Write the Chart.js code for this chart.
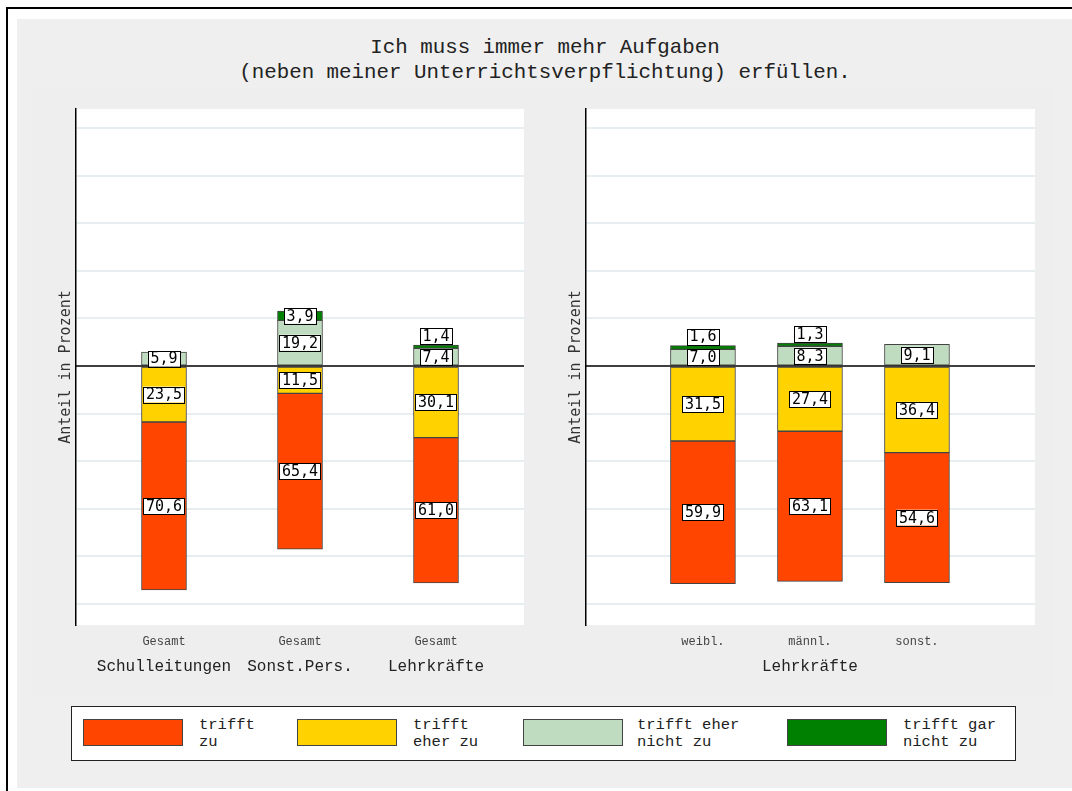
<!DOCTYPE html>
<html>
<head>
<meta charset="utf-8">
<script src="https://cdn.jsdelivr.net/npm/chart.js@4.4.1/dist/chart.umd.min.js"></script>
<style>
html,body{margin:0;padding:0;background:#fff;width:1072px;height:791px;overflow:hidden;position:relative;}
#frame{position:absolute;left:6px;top:7px;width:1100px;height:820px;border-left:2px solid #000;border-top:2px solid #000;}
#bg{position:absolute;left:17px;top:19px;width:1060px;height:769px;background:#efefef;}
#inner{position:absolute;left:33px;top:88px;width:1021px;height:609px;background:#eeeeee;}
#title{position:absolute;left:0;width:1090px;top:35px;text-align:center;font-family:"Liberation Mono",monospace;font-size:20.8px;line-height:25px;color:#222;}
.panel{position:absolute;top:100px;height:600px;}
#leftBox{left:40px;width:494px;}
#rightBox{left:550px;width:495px;}
#legend{position:absolute;left:71px;top:706px;width:943px;height:53px;background:#fff;border:1.5px solid #222;}
.sw{position:absolute;top:12px;width:100px;height:27px;box-sizing:border-box;border:1px solid #444;}
.lt{position:absolute;top:10px;font-family:"Liberation Mono",monospace;font-size:15.5px;line-height:17px;color:#222;white-space:pre;}
</style>
</head>
<body>
<div id="frame"></div>
<div id="bg"></div>
<div id="inner"></div>
<div id="title">Ich muss immer mehr Aufgaben<br>(neben meiner Unterrichtsverpflichtung) erfüllen.</div>
<div class="panel" id="leftBox"><canvas id="leftChart"></canvas></div>
<div class="panel" id="rightBox"><canvas id="rightChart"></canvas></div>
<div id="legend"></div>
<script>
// left panel: three groups, each "Gesamt"
const leftGroups = ['Schulleitungen', 'Sonst.Pers.', 'Lehrkräfte'];
const leftSub = ['Gesamt', 'Gesamt', 'Gesamt'];
const leftZu = [70.6, 65.4, 61.0];
const leftEherZu = [23.5, 11.5, 30.1];
const leftEherNicht = [5.9, 19.2, 7.4];
const leftGarNicht = [0, 3.9, 1.4];

// right panel: Lehrkräfte by gender
const rightGroups = ['', 'Lehrkräfte', ''];
const rightSub = ['weibl.', 'männl.', 'sonst.'];
const rightZu = [59.9, 63.1, 54.6];
const rightEherZu = [31.5, 27.4, 36.4];
const rightEherNicht = [7.0, 8.3, 9.1];
const rightGarNicht = [1.6, 1.3, 0];

const seriesNames = [['trifft', 'zu'], ['trifft', 'eher zu'], ['trifft eher', 'nicht zu'], ['trifft gar', 'nicht zu']];
const seriesColors = ['#ff4500', '#ffd200', '#c0dcc0', '#008000'];
const yTicks = [-100, -80, -60, -40, -20, 0, 20, 40, 60, 80, 100];

const monoSerif = '"Liberation Mono", monospace';
const monoSans = '"DejaVu Sans Mono", monospace';

// white plot region
const plotBg = {
  id: 'plotBg',
  beforeDraw(chart){
    const a = chart.chartArea, c = chart.ctx;
    c.save(); c.fillStyle = '#fff';
    c.fillRect(a.left, a.top, a.right - a.left, a.bottom - a.top);
    c.restore();
  }
};

// zero line and boxed value labels
const valueLabels = {
  id: 'valueLabels',
  afterDatasetsDraw(chart){
    const c = chart.ctx, a = chart.chartArea;
    const y0 = chart.scales.y.getPixelForValue(0);
    c.save();
    c.strokeStyle = '#000'; c.lineWidth = 1.5;
    c.beginPath(); c.moveTo(a.left, y0); c.lineTo(a.right, y0); c.stroke();
    c.font = '15px ' + monoSans;
    c.textAlign = 'center'; c.textBaseline = 'middle';
    chart.data.datasets.forEach((ds, di) => {
      const meta = chart.getDatasetMeta(di);
      meta.data.forEach((bar, i) => {
        const v = ds.data[i].y;
        if (v == null) return;
        const txt = Math.abs(v).toFixed(1).replace('.', ',');
        const w = c.measureText(txt).width + 5, h = 16;
        let cy = (bar.y + bar.base) / 2;
        if (Math.abs(v) < 2) cy = Math.min(bar.y, bar.base) - h / 2 - 1;
        c.fillStyle = '#fff';
        c.fillRect(bar.x - w / 2, cy - h / 2, w, h);
        c.lineWidth = 1; c.strokeStyle = '#000';
        c.strokeRect(Math.round(bar.x - w / 2) + 0.5, Math.round(cy - h / 2) + 0.5, Math.round(w), h);
        c.fillStyle = '#000';
        c.fillText(txt, bar.x, cy + 1);
      });
    });
    c.restore();
  }
};

function pts(arr, sign){
  return arr.map((v, i) => ({x: i, y: v ? sign * v : null}));
}

function makePanel(id, sub, groups, zu, eherZu, eherNicht, garNicht, xMin, xMax, barPx){
  const common = {borderColor: '#444', borderWidth: 1, borderSkipped: false, barThickness: barPx};
  return new Chart(document.getElementById(id), {
    type: 'bar',
    data: {
      datasets: [
        Object.assign({label: 'trifft eher zu', data: pts(eherZu, -1), backgroundColor: seriesColors[1]}, common),
        Object.assign({label: 'trifft zu', data: pts(zu, -1), backgroundColor: seriesColors[0]}, common),
        Object.assign({label: 'trifft eher nicht zu', data: pts(eherNicht, 1), backgroundColor: seriesColors[2]}, common),
        Object.assign({label: 'trifft gar nicht zu', data: pts(garNicht, 1), backgroundColor: seriesColors[3]}, common)
      ]
    },
    options: {
      animation: false,
      responsive: true,
      maintainAspectRatio: false,
      layout: {padding: {top: 9, right: 10, left: 0, bottom: 0}},
      plugins: {legend: {display: false}, tooltip: {enabled: false}},
      scales: {
        x: {
          type: 'linear', stacked: true, offset: false, min: xMin, max: xMax, weight: 0,
          grid: {display: false, drawTicks: false}, border: {display: false},
          afterBuildTicks: s => { s.ticks = [0, 1, 2].map(v => ({value: v})); },
          afterFit: s => { s.height = 24; },
          ticks: {padding: 10, autoSkip: false, maxRotation: 0, color: '#444', font: {family: monoSerif, size: 12}, callback: (v) => sub[v] ?? ''}
        },
        x2: {
          type: 'linear', position: 'bottom', offset: false, min: xMin, max: xMax, weight: 1,
          grid: {display: false, drawTicks: false}, border: {display: false},
          afterBuildTicks: s => { s.ticks = [0, 1, 2].map(v => ({value: v})); },
          afterFit: s => { s.height = 51; },
          ticks: {padding: 8, autoSkip: false, maxRotation: 0, color: '#222', font: {family: monoSerif, size: 16}, callback: (v) => groups[v] ?? ''}
        },
        y: {
          stacked: true, min: -108.8, max: 108,
          afterBuildTicks: s => { s.ticks = yTicks.map(v => ({value: v})); },
          afterFit: s => { s.width = 36; },
          grid: {color: c => c.tick && c.tick.value === 0 ? 'rgba(0,0,0,0)' : '#e7eef1', lineWidth: 2, drawTicks: false},
          border: {display: true, color: '#000', width: 1.5},
          ticks: {display: false},
          title: {display: true, text: 'Anteil in Prozent', color: '#333', padding: {top: 17, bottom: 0}, font: {family: monoSans, size: 15}}
        }
      }
    },
    plugins: [plotBg, valueLabels]
  });
}

makePanel('leftChart', leftSub, leftGroups, leftZu, leftEherZu, leftEherNicht, leftGarNicht, -0.647, 2.647, 45);
makePanel('rightChart', rightSub, rightGroups, rightZu, rightEherZu, rightEherNicht, rightGarNicht, -1.093, 3.103, 65);

// legend box spanning both panels
const legend = document.getElementById('legend');
const swLeft = [10.5, 224.5, 450.5, 714.5];
const txtLeft = [127, 341, 565, 831];
seriesNames.forEach((lines, i) => {
  const sw = document.createElement('div');
  sw.className = 'sw';
  sw.style.left = swLeft[i] + 'px';
  sw.style.background = seriesColors[i];
  legend.appendChild(sw);
  const t = document.createElement('div');
  t.className = 'lt';
  t.style.left = txtLeft[i] + 'px';
  t.textContent = lines.join('\n');
  legend.appendChild(t);
});
</script>
</body>
</html>
